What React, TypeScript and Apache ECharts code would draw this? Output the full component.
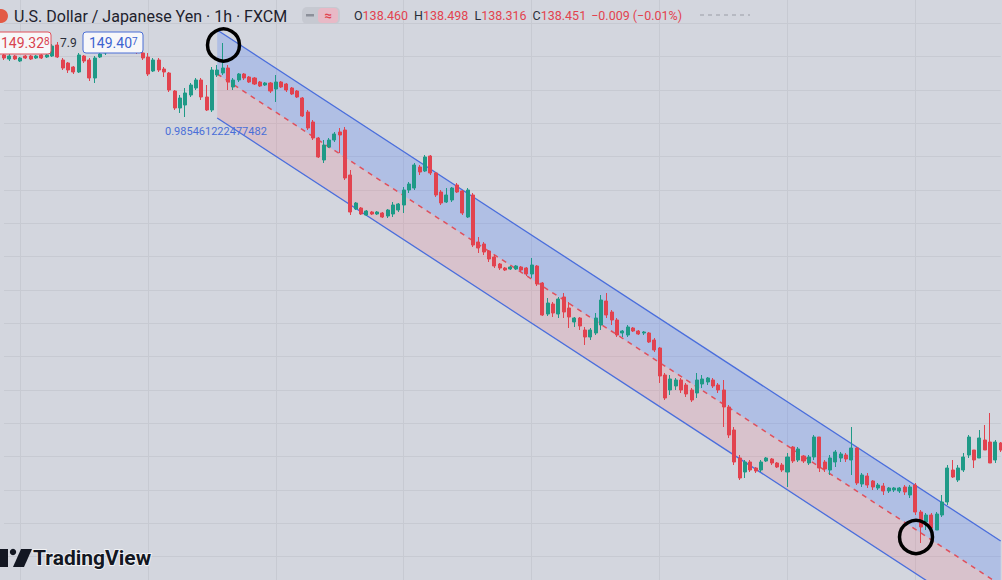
import React, { useEffect, useRef } from "react";
import * as echarts from "echarts";

// Each candle: [open, close, low, high]
const candlesBefore: number[][] = [
  [149.025, 148.98, 148.95, 149.07],
  [148.965, 149.01, 148.935, 149.04],
  [149.01, 148.965, 148.95, 149.025],
  [148.935, 148.98, 148.92, 148.995],
  [149.01, 148.98, 148.965, 149.025],
  [149.01, 148.965, 148.95, 149.025],
  [148.98, 149.01, 148.965, 149.025],
  [149.025, 148.98, 148.965, 149.04],
  [148.995, 149.025, 148.98, 149.04],
  [149.01, 149.16, 148.995, 149.19],
  [149.175, 148.995, 148.98, 149.22],
  [148.95, 148.83, 148.8, 148.98],
  [148.905, 148.8, 148.755, 148.92],
  [148.845, 148.77, 148.74, 148.86],
  [148.77, 149.025, 148.755, 149.055],
  [149.01, 148.935, 148.905, 149.025],
  [148.95, 148.68, 148.635, 148.98],
  [148.68, 148.98, 148.605, 149.01],
  [148.995, 149.04, 148.98, 149.07],
  [149.055, 149.13, 149.025, 149.16],
  [149.1, 149.175, 149.07, 149.205],
  [149.13, 149.205, 149.1, 149.235],
  [149.19, 149.1, 149.07, 149.22],
  [149.145, 149.22, 149.115, 149.25],
  [149.19, 149.115, 149.085, 149.22],
  [149.16, 149.07, 149.04, 149.19],
  [149.055, 148.98, 148.95, 149.07],
  [148.995, 148.74, 148.71, 149.055],
  [148.785, 148.95, 148.77, 148.98],
  [148.95, 148.8, 148.77, 148.98],
  [148.815, 148.77, 148.695, 148.845],
  [148.755, 148.5, 148.47, 148.77],
  [148.485, 148.23, 148.2, 148.5],
  [148.23, 148.38, 148.155, 148.425],
  [148.275, 148.455, 148.095, 148.53],
  [148.425, 148.575, 148.395, 148.605],
  [148.53, 148.65, 148.5, 148.68],
  [148.65, 148.395, 148.35, 148.68],
  [148.395, 148.2, 148.185, 148.575],
  [148.2, 148.8, 148.17, 148.845],
];

const candlesChannel: number[][] = [
  [148.725, 148.8, 148.695, 148.875],
  [148.755, 148.83, 148.725, 149.205],
  [148.83, 148.62, 148.5, 148.875],
  [148.545, 148.65, 148.5, 148.68],
  [148.65, 148.74, 148.62, 148.755],
  [148.74, 148.68, 148.65, 148.755],
  [148.695, 148.62, 148.605, 148.71],
  [148.68, 148.59, 148.575, 148.695],
  [148.62, 148.56, 148.545, 148.635],
  [148.575, 148.605, 148.56, 148.62],
  [148.605, 148.485, 148.455, 148.62],
  [148.515, 148.62, 148.32, 148.725],
  [148.62, 148.545, 148.53, 148.635],
  [148.59, 148.5, 148.47, 148.605],
  [148.53, 148.44, 148.425, 148.545],
  [148.485, 148.395, 148.38, 148.5],
  [148.38, 148.11, 148.095, 148.395],
  [148.17, 147.93, 147.9, 148.2],
  [148.02, 147.78, 147.75, 148.05],
  [147.78, 147.495, 147.48, 147.795],
  [147.45, 147.675, 147.405, 147.75],
  [147.645, 147.75, 147.63, 147.78],
  [147.75, 147.84, 147.72, 147.87],
  [147.87, 147.825, 147.555, 147.93],
  [147.9, 147.18, 147.15, 147.945],
  [147.225, 146.67, 146.625, 147.3],
  [146.715, 146.805, 146.7, 146.82],
  [146.73, 146.64, 146.625, 146.745],
  [146.625, 146.685, 146.61, 146.7],
  [146.67, 146.64, 146.625, 146.685],
  [146.64, 146.67, 146.625, 146.685],
  [146.655, 146.595, 146.58, 146.67],
  [146.61, 146.7, 146.58, 146.715],
  [146.64, 146.775, 146.595, 146.82],
  [146.7, 146.79, 146.67, 146.805],
  [146.775, 147.0, 146.655, 147.045],
  [147.0, 147.09, 146.955, 147.12],
  [147.03, 147.375, 147.0, 147.405],
  [147.345, 147.27, 147.225, 147.375],
  [147.285, 147.495, 147.27, 147.525],
  [147.51, 147.255, 147.225, 147.525],
  [147.255, 146.925, 146.895, 147.27],
  [146.97, 146.805, 146.775, 147.0],
  [146.82, 146.925, 146.805, 147.03],
  [146.85, 147.03, 146.82, 147.045],
  [147.075, 146.97, 146.955, 147.105],
  [146.985, 146.655, 146.625, 147.0],
  [146.595, 147.0, 146.58, 147.03],
  [146.925, 146.175, 146.145, 146.955],
  [146.22, 146.13, 146.055, 146.295],
  [146.19, 146.07, 146.025, 146.22],
  [146.085, 145.965, 145.92, 146.1],
  [145.995, 145.86, 145.83, 146.025],
  [145.89, 145.83, 145.8, 145.905],
  [145.83, 145.8, 145.785, 145.845],
  [145.815, 145.845, 145.8, 145.86],
  [145.815, 145.86, 145.8, 145.875],
  [145.845, 145.8, 145.77, 145.86],
  [145.83, 145.74, 145.71, 145.845],
  [145.74, 145.875, 145.68, 145.98],
  [145.86, 145.59, 145.56, 145.875],
  [145.605, 145.125, 145.11, 145.62],
  [145.14, 145.305, 145.11, 145.38],
  [145.29, 145.155, 145.095, 145.32],
  [145.14, 145.365, 145.08, 145.395],
  [145.395, 145.17, 145.08, 145.455],
  [145.23, 145.095, 144.93, 145.32],
  [145.02, 145.08, 144.945, 145.095],
  [145.08, 144.96, 144.9, 145.095],
  [144.9, 144.795, 144.675, 144.945],
  [144.795, 144.9, 144.75, 144.93],
  [144.855, 145.08, 144.825, 145.155],
  [144.975, 145.35, 144.9, 145.425],
  [145.335, 145.125, 145.08, 145.455],
  [145.17, 145.05, 144.975, 145.2],
  [145.05, 144.825, 144.795, 145.08],
  [144.855, 144.885, 144.795, 144.9],
  [144.825, 144.945, 144.795, 144.975],
  [144.93, 144.885, 144.87, 144.945],
  [144.885, 144.84, 144.825, 144.9],
  [144.855, 144.87, 144.825, 144.885],
  [144.855, 144.72, 144.705, 144.87],
  [144.75, 144.6, 144.57, 144.78],
  [144.63, 144.21, 144.105, 144.645],
  [144.225, 143.88, 143.85, 144.255],
  [144.0, 144.165, 143.925, 144.225],
  [144.06, 144.15, 144.0, 144.18],
  [144.15, 144.0, 143.955, 144.18],
  [144.075, 143.94, 143.895, 144.105],
  [144.0, 143.85, 143.82, 144.03],
  [143.955, 144.15, 143.88, 144.255],
  [144.09, 144.165, 144.03, 144.225],
  [144.12, 144.18, 144.075, 144.195],
  [144.15, 144.06, 144.03, 144.18],
  [144.075, 144.0, 143.955, 144.105],
  [144.0, 143.745, 143.445, 144.15],
  [143.745, 143.325, 143.28, 143.775],
  [143.4, 142.92, 142.875, 143.445],
  [142.98, 142.68, 142.65, 143.025],
  [142.77, 142.92, 142.68, 142.95],
  [142.92, 142.8, 142.77, 142.95],
  [142.83, 142.785, 142.755, 142.845],
  [142.8, 142.92, 142.77, 142.95],
  [142.935, 142.98, 142.92, 142.995],
  [142.965, 142.905, 142.875, 142.98],
  [142.905, 142.845, 142.83, 142.92],
  [142.875, 142.8, 142.77, 142.905],
  [142.77, 142.995, 142.545, 143.055],
  [143.145, 142.935, 142.905, 143.16],
  [142.95, 143.115, 142.92, 143.145],
  [143.01, 142.935, 142.905, 143.025],
  [142.905, 142.995, 142.875, 143.025],
  [142.995, 143.295, 142.95, 143.325],
  [143.295, 142.83, 142.77, 143.295],
  [142.92, 142.815, 142.77, 142.95],
  [142.8, 142.98, 142.725, 143.025],
  [142.92, 143.07, 142.845, 143.1],
  [142.98, 143.04, 142.92, 143.07],
  [143.025, 142.965, 142.92, 143.055],
  [142.95, 143.13, 142.725, 143.445],
  [143.13, 142.605, 142.575, 143.145],
  [142.59, 142.725, 142.545, 142.755],
  [142.71, 142.575, 142.53, 142.755],
  [142.635, 142.545, 142.5, 142.65],
  [142.53, 142.575, 142.5, 142.605],
  [142.56, 142.485, 142.425, 142.605],
  [142.485, 142.53, 142.455, 142.545],
  [142.5, 142.53, 142.47, 142.545],
  [142.485, 142.53, 142.455, 142.545],
  [142.545, 142.47, 142.425, 142.575],
  [142.425, 142.545, 142.38, 142.575],
  [142.575, 142.17, 142.125, 142.605],
];

const candlesAfter: number[][] = [
  [142.17, 141.945, 141.705, 142.2],
  [142.02, 142.125, 141.9, 142.155],
  [142.125, 141.93, 141.9, 142.155],
  [141.9, 142.14, 141.9, 142.17],
  [142.125, 142.32, 142.095, 142.425],
  [142.32, 142.83, 142.275, 142.875],
  [142.8, 142.695, 142.68, 142.95],
  [142.65, 142.83, 142.62, 142.875],
  [142.8, 142.995, 142.77, 143.055],
  [143.025, 143.295, 142.98, 143.325],
  [143.1, 142.95, 142.83, 143.1],
  [142.98, 143.28, 142.98, 143.4],
  [143.25, 143.1, 143.1, 143.475],
  [143.22, 142.905, 142.905, 143.655],
  [142.95, 143.22, 142.905, 143.25],
  [143.205, 143.1, 143.07, 143.22],
];

// Regression channel (start bar, end bar) and line prices at those bars
const channelBars = [40, 187];
const upperLine = [149.4, 141.735];
const middleLine = [148.74, 141.075];
const lowerLine = [148.08, 140.415];

const ohlc = [...candlesBefore, ...candlesChannel, ...candlesAfter];
const categories = ohlc.map((_, i) => `bar ${i}`);

const BG = "#d3d6de";
const GRID = "#c7cad2";
const UP = "#1f9a87";
const DOWN = "#e2434f";
const BLUE = "#4a6edc";
const RED = "#e0505c";
const OY = 10; // the chart canvas starts 10px above the page

export default function App() {
  const ref = useRef<HTMLDivElement>(null);
  useEffect(() => {
    document.body.style.margin = "0";
    document.body.style.overflow = "hidden";
    const chart = echarts.init(ref.current!, null, { renderer: "svg" });
    const bandData = [
      [channelBars[0], channelBars[1], upperLine[0], upperLine[1], middleLine[0], middleLine[1], 0],
      [channelBars[0], channelBars[1], middleLine[0], middleLine[1], lowerLine[0], lowerLine[1], 1],
    ];
    const bandColors = ["rgba(41,98,255,0.2)", "rgba(245,80,100,0.14)"];
    const lineData = (arr: number[]) => [
      [channelBars[0], arr[0]],
      [channelBars[1], arr[1]],
    ];
    const ohlcFont = { fontSize: 12.5, fontFamily: "Roboto, sans-serif" };
    chart.setOption({
      animation: false,
      backgroundColor: BG,
      grid: { left: 4, right: 1.3, top: 0, bottom: 0 },
      xAxis: {
        type: "category",
        data: categories,
        boundaryGap: false,
        axisLine: { show: false },
        axisTick: { show: false },
        axisLabel: { show: false },
        splitLine: {
          show: true,
          interval: (index: number) => index % 24 === 3,
          lineStyle: { color: GRID, width: 1 },
        },
      },
      yAxis: {
        type: "value",
        min: 141,
        max: 150,
        interval: 0.5,
        axisLine: { show: false },
        axisTick: { show: false },
        axisLabel: { show: false },
        splitLine: { show: true, lineStyle: { color: GRID, width: 1 } },
      },
      series: [
        {
          type: "custom",
          z: 1,
          silent: true,
          encode: { x: [0, 1], y: [2, 3, 4, 5] },
          data: bandData,
          renderItem: (params: any, api: any) => {
            const a = api.coord([api.value(0), api.value(2)]);
            const b = api.coord([api.value(1), api.value(3)]);
            const c = api.coord([api.value(1), api.value(5)]);
            const d = api.coord([api.value(0), api.value(4)]);
            return {
              type: "polygon",
              shape: { points: [a, b, c, d] },
              style: { fill: bandColors[api.value(6)] },
            };
          },
        },
        {
          type: "line",
          z: 2,
          data: lineData(upperLine),
          symbol: "none",
          lineStyle: { color: BLUE, width: 1.3 },
        },
        {
          type: "line",
          z: 2,
          data: lineData(lowerLine),
          symbol: "none",
          lineStyle: { color: BLUE, width: 1.3 },
        },
        {
          type: "line",
          z: 2,
          data: lineData(middleLine),
          symbol: "none",
          lineStyle: { color: RED, width: 1.5, type: [5, 5] },
        },
        {
          type: "candlestick",
          z: 3,
          data: ohlc,
          barWidth: "66%",
          itemStyle: {
            color: UP,
            color0: DOWN,
            borderColor: UP,
            borderColor0: DOWN,
            borderWidth: 1,
          },
        },
      ],
      graphic: [
        { type: "circle", z: 100, shape: { cx: 1, cy: 16 + OY, r: 7 }, style: { fill: "#e35a45" } },
        {
          type: "text",
          z: 100,
          x: 14,
          y: 16 + OY,
          style: {
            text: "U.S. Dollar / Japanese Yen · 1h · FXCM",
            fill: "#1e222d",
            font: "16px Roboto, sans-serif",
            verticalAlign: "middle",
          },
        },
        { type: "rect", z: 100, shape: { x: 302, y: 7 + OY, width: 38, height: 17, r: 5 }, style: { fill: "#c6c9d1" } },
        { type: "rect", z: 101, shape: { x: 306, y: 14 + OY, width: 8, height: 2.5 }, style: { fill: "#8c909a" } },
        { type: "rect", z: 101, shape: { x: 318, y: 8 + OY, width: 20, height: 15, r: 4 }, style: { fill: "#e8b9c6" } },
        {
          type: "text",
          z: 102,
          x: 328,
          y: 15.5 + OY,
          style: { text: "≈", fill: "#e0434f", font: "bold 13px Roboto, sans-serif", align: "center", verticalAlign: "middle" },
        },
        {
          type: "text",
          z: 100,
          x: 354,
          y: 15 + OY,
          style: {
            text: "{k|O}{v|138.460}{g|H}{v|138.498}{g|L}{v|138.316}{g|C}{v|138.451}{w|−0.009 (−0.01%)}",
            verticalAlign: "middle",
            rich: {
              k: { fill: "#2a2e39", ...ohlcFont },
              g: { fill: "#2a2e39", ...ohlcFont, padding: [0, 0, 0, 6] },
              v: { fill: "#e2434f", ...ohlcFont },
              w: { fill: "#e2434f", ...ohlcFont, padding: [0, 0, 0, 5] },
            },
          },
        },
        {
          type: "line",
          z: 100,
          shape: { x1: 700, y1: 15 + OY, x2: 750, y2: 15 + OY },
          style: { stroke: "#9a9da6", lineWidth: 1, lineDash: [4, 4] },
        },
        { type: "rect", z: 100, shape: { x: -3, y: 32 + OY, width: 54, height: 22, r: 3 }, style: { fill: "#f7f7f9", stroke: "#e0505a", lineWidth: 1 } },
        {
          type: "text",
          z: 101,
          x: 1,
          y: 43 + OY,
          style: {
            text: "{a|149.32}{b|8}",
            verticalAlign: "middle",
            rich: {
              a: { fill: "#d9434f", fontSize: 14, fontFamily: "Roboto, sans-serif" },
              b: { fill: "#d9434f", fontSize: 10, fontFamily: "Roboto, sans-serif", verticalAlign: "top" },
            },
          },
        },
        {
          type: "text",
          z: 100,
          x: 60,
          y: 43 + OY,
          style: { text: "7.9", fill: "#2a2e39", font: "12px Roboto, sans-serif", verticalAlign: "middle" },
        },
        { type: "rect", z: 100, shape: { x: 83, y: 32 + OY, width: 60, height: 21, r: 3 }, style: { fill: "#f7f7f9", stroke: "#4b6fd6", lineWidth: 1 } },
        {
          type: "text",
          z: 101,
          x: 89,
          y: 43 + OY,
          style: {
            text: "{a|149.40}{b|7}",
            verticalAlign: "middle",
            rich: {
              a: { fill: "#3d63d0", fontSize: 14, fontFamily: "Roboto, sans-serif" },
              b: { fill: "#3d63d0", fontSize: 10, fontFamily: "Roboto, sans-serif", verticalAlign: "top" },
            },
          },
        },
        {
          type: "text",
          z: 100,
          x: 165,
          y: 131 + OY,
          style: { text: "0.985461222477482", fill: "#4a6fd8", font: "11px Roboto, sans-serif", verticalAlign: "middle" },
        },
        { type: "circle", z: 100, shape: { cx: 223.5, cy: 45 + OY, r: 16 }, style: { fill: "none", stroke: "#000", lineWidth: 3.5 } },
        { type: "circle", z: 100, shape: { cx: 916, cy: 537 + OY, r: 16.5 }, style: { fill: "none", stroke: "#000", lineWidth: 3.5 } },
        { type: "rect", z: 100, shape: { x: 0, y: 549 + OY, width: 8, height: 18 }, style: { fill: "#131722" } },
        { type: "circle", z: 100, shape: { cx: 13, cy: 552 + OY, r: 3.2 }, style: { fill: "#131722" } },
        {
          type: "polygon",
          z: 100,
          shape: { points: [[21, 549 + OY], [32, 549 + OY], [24, 567 + OY], [13, 567 + OY]] },
          style: { fill: "#131722" },
        },
        {
          type: "text",
          z: 100,
          x: 33,
          y: 558 + OY,
          style: {
            text: "TradingView",
            fill: "#131722",
            font: "bold 21px Roboto, sans-serif",
            verticalAlign: "middle",
            stroke: "rgba(255,255,255,0.7)",
            lineWidth: 2,
          },
        },
      ],
    });
    return () => chart.dispose();
  }, []);
  return (
    <div style={{ width: 1002, height: 580, overflow: "hidden", position: "relative" }}>
      <div ref={ref} style={{ position: "absolute", left: 0, top: -OY, width: 1002, height: 600 }} />
    </div>
  );
}
